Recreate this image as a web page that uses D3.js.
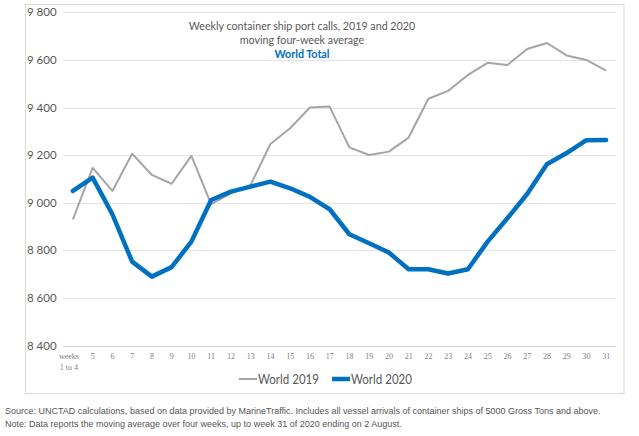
<!DOCTYPE html>
<html>
<head>
<meta charset="utf-8">
<script src="https://cdn.jsdelivr.net/npm/d3@7"></script>
<style>
  body { margin: 0; background: #fff; }
  svg { display: block; }
</style>
</head>
<body>
<div id="chart"></div>
<script>
// weekly container ship port calls, moving four-week average

let weeks = ['1-4', '5', '6', '7', '8', '9', '10', '11', '12', '13', '14', '15', '16', '17',
    '18', '19', '20', '21', '22', '23', '24', '25', '26', '27', '28', '29', '30', '31'];

let world_2019 = [8930, 9147, 9050, 9206, 9117, 9080, 9197, 8995, 9040, 9075, 9247, 9313, 9400, 9404,
    9233, 9201, 9215, 9274, 9437, 9470, 9537, 9588, 9579, 9646, 9671, 9619, 9600, 9555];

let world_2020 = [9050, 9106, 8952, 8753, 8690, 8730, 8837, 9012, 9047, 9068, 9089, 9061, 9025, 8973,
    8868, 8830, 8791, 8721, 8721, 8703, 8721, 8837, 8935, 9037, 9162, 9209, 9263, 9264];

let y_ticks = [8400, 8600, 8800, 9000, 9200, 9400, 9600, 9800];

let width = 639;
let height = 436;
let margin = {left: 63, right: 23, top: 12.3, bottom: 90.3};

let svg = d3.select('#chart')
    .append('svg')
    .attr('width', width)
    .attr('height', height);

// moldura do gráfico
svg.append('rect')
    .attr('x', 25.5)
    .attr('y', 4.5)
    .attr('width', 598.5)
    .attr('height', 389)
    .attr('fill', 'none')
    .attr('stroke', '#d9d9d9');

let x_scale = d3.scalePoint()
    .domain(weeks)
    .range([margin.left, width - margin.right])
    .padding(0.5);

let y_scale = d3.scaleLinear()
    .domain([8400, 9800])
    .range([height - margin.bottom, margin.top]);

// grade horizontal
svg.append('g')
    .selectAll('line')
    .data(y_ticks)
    .enter()
    .append('line')
    .attr('x1', margin.left)
    .attr('x2', width - margin.right)
    .attr('y1', d => Math.round(y_scale(d)) + 0.5)
    .attr('y2', d => Math.round(y_scale(d)) + 0.5)
    .attr('stroke', d => d == 8400 ? '#d0d0d0' : '#e4e4e4')
    .attr('stroke-width', 1);

// rótulos do eixo y
let y_fmt = d => d3.format(',')(d).replace(',', ' ');
svg.append('g')
    .selectAll('text')
    .data(y_ticks)
    .enter()
    .append('text')
    .attr('x', 27)
    .attr('y', d => y_scale(d) + 4)
    .attr('font-family', 'Lato, "Open Sans", sans-serif')
    .attr('font-size', 11.5)
    .attr('fill', '#595959')
    .text(y_fmt);

// rótulos do eixo x
let x_labels = svg.append('g')
    .attr('font-family', '"Liberation Serif", serif')
    .attr('font-size', 8)
    .attr('fill', '#7f7f7f')
    .attr('text-anchor', 'middle');

x_labels.selectAll('text.wk')
    .data(weeks.slice(1))
    .enter()
    .append('text')
    .attr('class', 'wk')
    .attr('x', d => x_scale(d))
    .attr('y', 359)
    .text(d => d);

let first = x_labels.append('text')
    .attr('x', x_scale(weeks[0]) - 4)
    .attr('y', 359);
first.append('tspan').text('weeks');
first.append('tspan').attr('x', x_scale(weeks[0]) - 4).attr('dy', 11).text('1 to 4');

// linhas
let line_gen = d3.line()
    .x((d, i) => x_scale(weeks[i]))
    .y(d => y_scale(d));

svg.append('path')
    .datum(world_2019)
    .attr('d', line_gen)
    .attr('fill', 'none')
    .attr('stroke', '#a5a5a5')
    .attr('stroke-width', 2)
    .attr('stroke-linejoin', 'round');

svg.append('path')
    .datum(world_2020)
    .attr('d', line_gen)
    .attr('fill', 'none')
    .attr('stroke', '#0070c0')
    .attr('stroke-width', 4.5)
    .attr('stroke-linejoin', 'round')
    .attr('stroke-linecap', 'round');

// título
let title = svg.append('g')
    .attr('font-family', 'Lato, "Open Sans", sans-serif')
    .attr('text-anchor', 'middle');

title.append('text')
    .attr('x', 302)
    .attr('y', 30)
    .attr('font-size', 10.7)
    .attr('fill', '#595959')
    .text('Weekly container ship port calls, 2019 and 2020');

title.append('text')
    .attr('x', 302)
    .attr('y', 44)
    .attr('font-size', 10.7)
    .attr('fill', '#595959')
    .text('moving four-week average');

title.append('text')
    .attr('x', 302)
    .attr('y', 58)
    .attr('font-size', 10.7)
    .attr('font-weight', 'bold')
    .attr('fill', '#0070c0')
    .text('World Total');

// legenda
let legend = [
    {name: 'World 2019', color: '#a5a5a5', w: 2, x: 239},
    {name: 'World 2020', color: '#0070c0', w: 4.5, x: 332}
];

let leg = svg.append('g').selectAll('g')
    .data(legend)
    .enter()
    .append('g');

leg.append('line')
    .attr('x1', d => d.x)
    .attr('x2', d => d.x + 18)
    .attr('y1', 379)
    .attr('y2', 379)
    .attr('stroke', d => d.color)
    .attr('stroke-width', d => d.w);

leg.append('text')
    .attr('x', d => d.x + 19)
    .attr('y', 383.5)
    .attr('font-family', 'Lato, "Open Sans", sans-serif')
    .attr('font-size', 12.5)
    .attr('textLength', 61)
    .attr('lengthAdjust', 'spacingAndGlyphs')
    .attr('fill', '#595959')
    .text(d => d.name);

// fonte e nota
let notes = [
    'Source: UNCTAD calculations, based on data provided by MarineTraffic. Includes all vessel arrivals of container ships of 5000 Gross Tons and above.',
    'Note: Data reports the moving average over four weeks, up to week 31 of 2020 ending on 2 August.'
];

svg.append('g')
    .selectAll('text')
    .data(notes)
    .enter()
    .append('text')
    .attr('x', 5)
    .attr('y', (d, i) => 414 + i * 13)
    .attr('font-family', '"Liberation Sans", Arial, sans-serif')
    .attr('font-size', 9)
    .attr('fill', '#555')
    .text(d => d);
</script>
</body>
</html>
